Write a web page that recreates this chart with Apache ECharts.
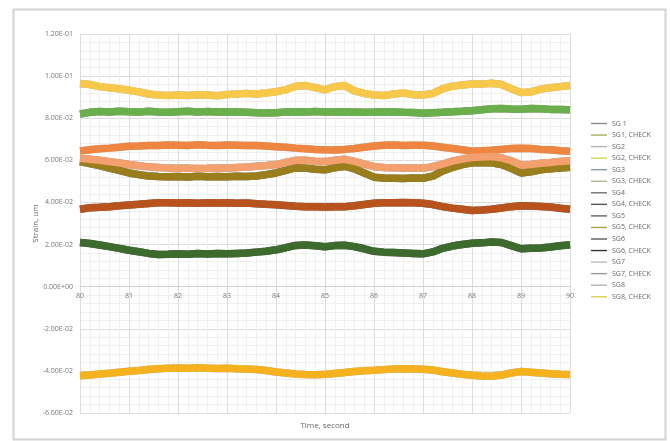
<!DOCTYPE html>
<html>
<head>
<meta charset="utf-8">
<script src="https://cdn.jsdelivr.net/npm/echarts@6/dist/echarts.min.js"></script>
<style>html,body{margin:0;padding:0;background:#fff;}#chart{width:670px;height:441px;}</style>
</head>
<body>
<div id="chart"></div>
<script>
const times = [80.0,80.2,80.4,80.6,80.8,81.0,81.2,81.4,81.6,81.8,82.0,82.2,82.4,82.6,82.8,83.0,83.2,83.4,83.6,83.8,84.0,84.2,84.4,84.6,84.8,85.0,85.2,85.4,85.6,85.8,86.0,86.2,86.4,86.6,86.8,87.0,87.2,87.4,87.6,87.8,88.0,88.2,88.4,88.6,88.8,89.0,89.2,89.4,89.6,89.8,90.0];

const sg1 = [0.0820,0.0828,0.0832,0.0830,0.0833,0.0831,0.0829,0.0833,0.0830,0.0828,0.0831,0.0833,0.0830,0.0832,0.0829,0.0831,0.0830,0.0828,0.0826,0.0825,0.0826,0.0829,0.0831,0.0830,0.0832,0.0830,0.0829,0.0831,0.0830,0.0828,0.0829,0.0831,0.0830,0.0828,0.0827,0.0824,0.0826,0.0828,0.0831,0.0833,0.0836,0.0840,0.0845,0.0846,0.0844,0.0843,0.0846,0.0845,0.0842,0.0841,0.0840];
const sg2 = [0.0965,0.0960,0.0950,0.0945,0.0940,0.0933,0.0925,0.0915,0.0910,0.0908,0.0910,0.0908,0.0912,0.0910,0.0907,0.0913,0.0915,0.0918,0.0915,0.0920,0.0926,0.0935,0.0952,0.0955,0.0945,0.0935,0.0950,0.0955,0.0930,0.0918,0.0910,0.0908,0.0915,0.0920,0.0912,0.0910,0.0918,0.0940,0.0952,0.0958,0.0963,0.0962,0.0966,0.0960,0.0940,0.0922,0.0925,0.0938,0.0945,0.0950,0.0955];
const sg3 = [0.0610,0.0605,0.0600,0.0594,0.0588,0.0580,0.0574,0.0569,0.0566,0.0563,0.0562,0.0563,0.0561,0.0562,0.0564,0.0563,0.0566,0.0568,0.0572,0.0575,0.0580,0.0590,0.0600,0.0600,0.0596,0.0594,0.0600,0.0605,0.0595,0.0582,0.0570,0.0566,0.0565,0.0564,0.0563,0.0562,0.0570,0.0582,0.0596,0.0606,0.0614,0.0616,0.0618,0.0612,0.0598,0.0578,0.0580,0.0586,0.0590,0.0595,0.0598];
const sg4 = [0.0368,0.0375,0.0377,0.0380,0.0384,0.0388,0.0391,0.0395,0.0399,0.0398,0.0397,0.0399,0.0396,0.0398,0.0397,0.0398,0.0396,0.0397,0.0394,0.0391,0.0389,0.0386,0.0382,0.0380,0.0379,0.0378,0.0379,0.0380,0.0384,0.0390,0.0396,0.0398,0.0399,0.0400,0.0398,0.0396,0.0390,0.0380,0.0373,0.0368,0.0362,0.0364,0.0368,0.0374,0.0380,0.0384,0.0383,0.0381,0.0378,0.0372,0.0368];
const sg5 = [0.0594,0.0585,0.0575,0.0563,0.0552,0.0540,0.0532,0.0526,0.0523,0.0522,0.0523,0.0521,0.0524,0.0522,0.0523,0.0522,0.0524,0.0523,0.0526,0.0532,0.0540,0.0552,0.0565,0.0563,0.0558,0.0555,0.0565,0.0572,0.0560,0.0540,0.0520,0.0516,0.0515,0.0514,0.0516,0.0515,0.0525,0.0550,0.0566,0.0580,0.0588,0.0590,0.0588,0.0580,0.0562,0.0540,0.0546,0.0555,0.0560,0.0564,0.0567];
const sg6 = [0.0210,0.0205,0.0198,0.0190,0.0182,0.0173,0.0166,0.0158,0.0153,0.0154,0.0156,0.0154,0.0157,0.0155,0.0158,0.0156,0.0158,0.0160,0.0164,0.0168,0.0175,0.0185,0.0196,0.0198,0.0194,0.0190,0.0195,0.0197,0.0190,0.0180,0.0168,0.0164,0.0162,0.0160,0.0158,0.0156,0.0165,0.0182,0.0193,0.0200,0.0206,0.0208,0.0212,0.0210,0.0195,0.0180,0.0182,0.0184,0.0188,0.0194,0.0199];
const sg7 = [0.0645,0.0650,0.0655,0.0658,0.0662,0.0667,0.0668,0.0671,0.0670,0.0673,0.0672,0.0670,0.0674,0.0672,0.0671,0.0673,0.0672,0.0670,0.0671,0.0668,0.0665,0.0662,0.0658,0.0655,0.0652,0.0650,0.0649,0.0652,0.0656,0.0662,0.0668,0.0672,0.0673,0.0670,0.0672,0.0672,0.0668,0.0662,0.0656,0.0650,0.0643,0.0645,0.0648,0.0652,0.0656,0.0657,0.0656,0.0652,0.0650,0.0646,0.0643];
const sg8 = [-0.0423,-0.0420,-0.0415,-0.0411,-0.0406,-0.0402,-0.0398,-0.0393,-0.0390,-0.0388,-0.0386,-0.0388,-0.0385,-0.0387,-0.0389,-0.0388,-0.0390,-0.0391,-0.0393,-0.0398,-0.0405,-0.0410,-0.0415,-0.0417,-0.0418,-0.0416,-0.0412,-0.0408,-0.0403,-0.0399,-0.0397,-0.0394,-0.0391,-0.0390,-0.0391,-0.0392,-0.0396,-0.0404,-0.0410,-0.0416,-0.0421,-0.0424,-0.0425,-0.0420,-0.0410,-0.0403,-0.0406,-0.0410,-0.0414,-0.0416,-0.0417];

const legendNames = ['SG 1','SG1, CHECK','SG2','SG2, CHECK','SG3','SG3, CHECK','SG4','SG4, CHECK','SG5','SG5, CHECK','SG6','SG6, CHECK','SG7','SG7, CHECK','SG8','SG8, CHECK'];
const legendIconColors = ['#8a8a8a','#a9ad5c','#b4b4b4','#d9d84a','#8e9ca2','#b5b697','#727272','#555555','#666666','#aaa048','#5a5a5a','#333333','#bdbdbd','#9c9c9c','#b3b3b3','#dcd24a'];

const sensorValues = [sg1, sg2, sg3, sg4, sg5, sg6, sg7, sg8];
const checkColors = ['#6aaf4b','#f8c84a','#f3a06e','#b8531e','#9b7e1c','#3c6b2d','#ee8540','#f6b21e'];
const baseColors = ['#8a8a8a','#b4b4b4','#8e9ca2','#727272','#666666','#5a5a5a','#bdbdbd','#b3b3b3'];
const checkDrawOrder = [0, 1, 3, 4, 5, 6, 2, 7];

function pairs(vals) { return times.map((t, i) => [t, vals[i]]); }

function sci(v) {
  if (Math.abs(v) < 1e-12) return '0.00E+00';
  const e = Math.floor(Math.log10(Math.abs(v)) + 1e-9);
  const m = v / Math.pow(10, e);
  return m.toFixed(2) + 'E' + (e < 0 ? '-' : '+') + String(Math.abs(e)).padStart(2, '0');
}

const series = [];
for (let i = 0; i < 8; i++) {
  series.push({
    name: legendNames[2 * i], type: 'line', data: pairs(sensorValues[i]),
    showSymbol: false, symbol: 'none', lineStyle: { width: 7.5, color: baseColors[i] },
    itemStyle: { color: baseColors[i] }, silent: true
  });
}
for (const i of checkDrawOrder) {
  series.push({
    name: legendNames[2 * i + 1], type: 'line', data: pairs(sensorValues[i]),
    showSymbol: false, symbol: 'none', lineStyle: { width: 7.5, color: checkColors[i] },
    itemStyle: { color: checkColors[i] }, silent: true
  });
}

const gridTop = 34, gridBottom = 28, chartH = 441;
const yMin = -0.06, yMax = 0.12;
const plotH = chartH - gridTop - gridBottom;
const zeroOffset = -plotH * (0 - yMin) / (yMax - yMin);

const chart = echarts.init(document.getElementById('chart'), null, { renderer: 'canvas' });
chart.setOption({
  animation: false,
  backgroundColor: '#ffffff',
  textStyle: { fontFamily: 'Open Sans' },
  graphic: [{
    type: 'rect', left: 11, top: 7, shape: { width: 652, height: 430 },
    style: { fill: 'none', stroke: '#d4d4d4', lineWidth: 2 }, silent: true, z: -10
  }],
  grid: { left: 80, right: 100, top: gridTop, bottom: gridBottom, containLabel: false, outerBoundsMode: 'none' },
  legend: {
    orient: 'vertical', left: 586, top: 115,
    itemWidth: 16, itemHeight: 10, itemGap: 4.55,
    textStyle: { fontSize: 7, color: '#666666', fontFamily: 'Open Sans' },
    data: legendNames.map((n, k) => ({
      name: n, icon: 'path://M0,0L16,0L16,1.4L0,1.4Z',
      itemStyle: { color: legendIconColors[k] }
    }))
  },
  xAxis: {
    type: 'value', min: 80, max: 90, interval: 1, position: 'bottom', offset: zeroOffset,
    name: 'Time, second', nameLocation: 'middle', nameGap: 135,
    nameTextStyle: { fontSize: 8, color: '#666666' },
    axisLine: { show: true, onZero: false, lineStyle: { color: '#d0d0d0', width: 1 } },
    axisTick: { show: false },
    axisLabel: { fontSize: 7, color: '#777777', margin: 6 },
    splitLine: { show: true, lineStyle: { color: '#dcdcdc', width: 1 } },
    minorTick: { show: false, splitNumber: 5 },
    minorSplitLine: { show: true, lineStyle: { color: '#f0f0f0', width: 1 } }
  },
  yAxis: {
    type: 'value', min: yMin, max: yMax, interval: 0.02,
    name: 'Strain, um', nameLocation: 'middle', nameGap: 40, nameMoveOverlap: false,
    nameTextStyle: { fontSize: 8, color: '#666666' },
    axisLine: { show: false },
    axisTick: { show: false },
    axisLabel: { fontSize: 7, color: '#777777', margin: 7, formatter: sci },
    splitLine: { show: true, lineStyle: { color: '#dcdcdc', width: 1 } },
    minorTick: { show: false, splitNumber: 5 },
    minorSplitLine: { show: true, lineStyle: { color: '#f0f0f0', width: 1 } }
  },
  series: series
});
</script>
</body>
</html>
